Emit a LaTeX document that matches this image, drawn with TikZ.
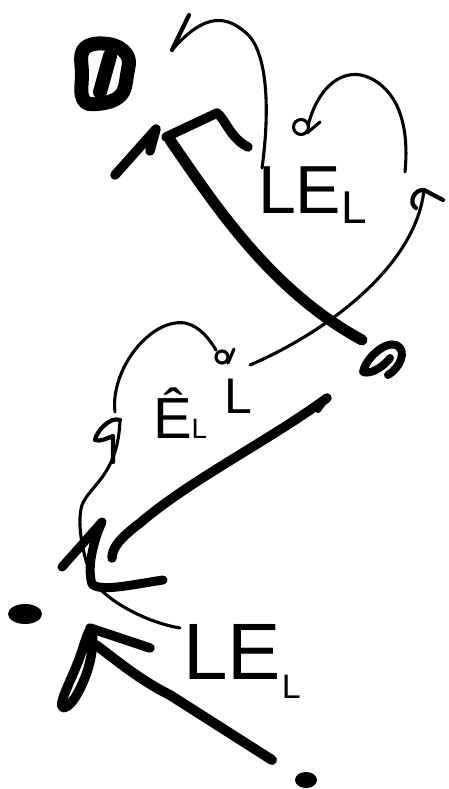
\documentclass[tikz,border=0pt]{standalone}
\usepackage{fontspec}
\setmainfont{Liberation Sans}
\tikzset{
  heavy/.style={line width=9.5pt, line cap=round, line join=round},
  fine/.style={line width=3.1pt, line cap=round, line join=round},
  barb/.style={line width=4.2pt, line cap=round, line join=round},
  lbl/.style={inner sep=0pt, outer sep=0pt, anchor=base west},
}
\begin{document}
\begin{tikzpicture}[x=1pt,y=-1pt]
\useasboundingbox (0,0) rectangle (449,789);

% labels
\node[lbl, font=\fontsize{68}{68}\selectfont] (labA) at (258,213) {LE\raisebox{-10pt}{\fontsize{46}{46}\selectfont L}};
\node[lbl, font=\fontsize{58}{58}\selectfont] (labB) at (153,438) {Ê\fontsize{28}{28}\selectfont L};
\node[lbl, font=\fontsize{50}{50}\selectfont] (labC) at (224,413) {L};
\node[lbl, font=\fontsize{80}{80}\selectfont] (labD) at (183,679) {LE\kern1pt\raisebox{-19pt}{\fontsize{34}{34}\selectfont L}};

% connector end points
\coordinate (aS) at (262,168);
\coordinate (aE) at (172,50);
\coordinate (bS) at (405,172);
\coordinate (bE) at (308,126);
\coordinate (cS) at (250,365);
\coordinate (cE) at (424,190);
\coordinate (dS) at (115,412);
\coordinate (dE) at (216,350);
\coordinate (eS) at (180,628);
\coordinate (eE) at (120,420);

% top blob
\draw[heavy, line width=14pt] plot[smooth cycle, tension=0.7] coordinates {(84,49) (108,44) (127,55) (127,75) (120,96) (97,104) (83,99) (82,75)};
\draw[line width=14pt, line cap=round] (110,56) -- (100,92);

% top thick arrow
\draw[heavy] (115,175) -- (156,129) -- (150,151);
\draw[heavy] (166,137) -- (217,113) .. controls (226,120) and (230,138) .. (248,147);
\draw[heavy, line width=11pt] (170,140) .. controls (215,205) and (270,290) .. (362,340);

% thin arrow to top
\draw[fine] (aS) .. controls (270,110) and (268,50) .. (245,32) .. controls (222,12) and (200,18) .. (aE);
\draw[barb] (aE) -- (189,15);

% top loop arrow
\draw[fine] (bS) .. controls (410,120) and (395,90) .. (370,78) .. controls (345,66) and (318,85) .. (bE);
\draw[fine] (301,127) circle (7.5);
\draw[fine] (307,133) -- (320,122);

% long thin arrow up to the right
\draw[fine] (cS) .. controls (320,335) and (415,270) .. (cE);
\draw[barb] (443,200) -- (cE) .. controls (414,189) and (408,203) .. (416,208);

% middle curl mark
\draw[heavy, line width=8pt] (388,375) .. controls (400,368) and (408,350) .. (396,345) .. controls (385,341) and (366,358) .. (363,372) .. controls (372,375) and (385,365) .. (390,358);

% middle loop arrow
\draw[fine] (dS) .. controls (110,370) and (150,318) .. (185,323) .. controls (200,326) and (210,340) .. (dE);
\draw[fine] (222,357) circle (6);
\draw[fine] (234,349) -- (228,363);

% middle thick line
\draw[heavy] (327,398) .. controls (270,440) and (190,480) .. (140,523) .. controls (120,538) and (112,548) .. (112,558);
\draw[heavy, line width=6pt] (327,398) -- (318,410);

% long thin curve from bottom label up to the middle arrowhead
\draw[fine] (eS) .. controls (145,622) and (105,600) .. (93,580) .. controls (84,560) and (76,525) .. (82,505) .. controls (90,485) and (118,475) .. (eE);
\draw[barb] (eE) .. controls (110,416) and (96,432) .. (95,440) .. controls (100,442) and (108,438) .. (113,436) -- (113,462);

% scribble stroke
\draw[heavy, line width=9pt] (62,567) -- (102,522) .. controls (96,535) and (86,565) .. (92,584) .. controls (100,592) and (130,585) .. (163,580);

% dots
\fill (25,614) ellipse [x radius=17, y radius=10];
\fill (306,780) ellipse [x radius=11, y radius=8];

% bottom thick arrow
\draw[heavy] plot[smooth cycle, tension=0.7] coordinates {(90,630) (78,662) (62,702) (70,704) (84,680) (92,650)};
\draw[heavy] (90,628) -- (150,648);
\draw[heavy, line width=10pt] (96,645) .. controls (120,663) and (140,680) .. (170,695) -- (272,760);
\end{tikzpicture}
\end{document}
